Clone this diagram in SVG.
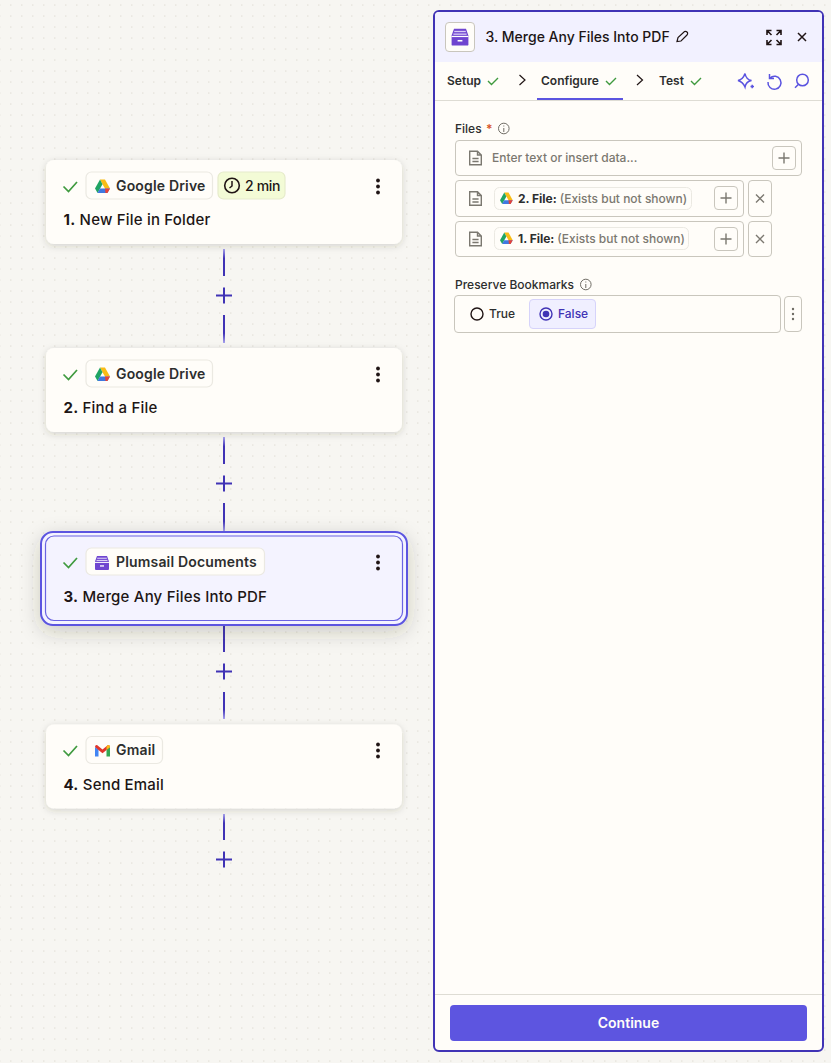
<svg xmlns="http://www.w3.org/2000/svg" width="831" height="1063" viewBox="0 0 831 1063">
<style>
text{font-family:"Inter","Liberation Sans",sans-serif}
.card{fill:#fffdf9}
.chip{fill:#fffdf9;stroke:#ebe9e2;stroke-width:1.2}
.ct{font-size:14px;font-weight:600;letter-spacing:.17px;fill:#2d2e2e}
.tt{font-size:15px;font-weight:500;fill:#201515;letter-spacing:.2px}
.tt tspan{font-weight:700}
.ck{fill:none;stroke:#3f9a3f;stroke-width:1.7}
.ck2{fill:none;stroke:#3f9a3f;stroke-width:1.4}
.ln{stroke:#4033b5;stroke-width:2;fill:none}
.box{fill:#fffdf9;stroke:#c9c6bd;stroke-width:1}
.gi{fill:none;stroke:#7b7870;stroke-width:1.4}
.lab{font-size:12px;font-weight:500;fill:#2d2e2e}
.ph{font-size:12px;font-weight:500;fill:#7b7870}
.chipb{font-size:12px;font-weight:700;fill:#2d2e2e}
.chipg{font-size:12px;font-weight:500;fill:#7b7870}
.tab{font-size:12px;font-weight:600;fill:#2d2e2e}
.ui{fill:none;stroke:#5b54e0;stroke-width:1.5}
.dk{fill:none;stroke:#201515;stroke-width:1.5}
</style>
<defs>
<pattern id="dots" width="11" height="11" patternUnits="userSpaceOnUse"><rect x="10" y="4.300" width="1.500" height="1.500" fill="#e8e6df"/><rect x="-1" y="4.300" width="1.500" height="1.500" fill="#e8e6df"/></pattern>
<filter id="sh" x="-10%" y="-30%" width="120%" height="170%"><feDropShadow dx="0" dy="2" stdDeviation="3.500" flood-color="#3a3420" flood-opacity=".18"/></filter>
<filter id="sh2" x="-15%" y="-40%" width="130%" height="200%"><feDropShadow dx="0" dy="6" stdDeviation="10" flood-color="#3a3420" flood-opacity=".22"/></filter>
<linearGradient id="fu" x1="0" y1="0" x2="0" y2="1"><stop offset="0" stop-color="#a8a2ee"/><stop offset=".35" stop-color="#4033b5"/></linearGradient>
<linearGradient id="fd" x1="0" y1="0" x2="0" y2="1"><stop offset=".65" stop-color="#4033b5"/><stop offset="1" stop-color="#a8a2ee"/></linearGradient>
<g id="drive"><path d="M5 0H10L15 9H10L7.500 4.700Z" fill="#f9bc15"/><path d="M5 0L7.500 4.700L2.600 13.500L0 9Z" fill="#1fa463"/><path d="M4.900 9H15L12.400 13.500H2.500Z" fill="#3f78e0"/><path d="M10 9H15L12.400 13.500H10.500Z" fill="#e94235"/></g>
<g id="cab"><path d="M3 1.500H13L15 7V14.500Q15 15.500 14 15.500H2Q1 15.500 1 14.500V7Z" fill="#6f45d0"/><rect x="3.200" y="3.200" width="9.600" height="1.100" fill="#d9ccf5"/><rect x="2.500" y="5.400" width="11" height="1.100" fill="#d9ccf5"/><rect x="1" y="7.400" width="14" height="1" fill="#fff"/><rect x="6" y="10.800" width="4" height="1.300" fill="#fff"/></g>
<path id="doc" d="M.7 .7H8.500L12.300 4.500V14.300H.7ZM8.500 .7V4.500H12.300M3.400 8H9.600M3.400 11H9.600"/>
<g id="dots3"><circle cx="0" cy="-6" r="1.900"/><circle cx="0" cy="0" r="1.900"/><circle cx="0" cy="6" r="1.900"/></g>
</defs>
<rect width="831" height="1063" fill="#f7f6f2"/>
<rect width="831" height="1063" fill="url(#dots)"/>

<g id="connectors">
<rect x="223" y="249" width="2" height="27" fill="url(#fu)"/><path class="ln" d="M216 295.500H232M224 287.500V303.500"/><rect x="223" y="315" width="2" height="28" fill="url(#fd)"/>
<rect x="223" y="437" width="2" height="27" fill="url(#fu)"/><path class="ln" d="M216 483.500H232M224 475.500V491.500"/><rect x="223" y="503" width="2" height="28" fill="url(#fd)"/>
<rect x="223" y="625" width="2" height="27" fill="#4033b5"/><path class="ln" d="M216 671.500H232M224 663.500V679.500"/><rect x="223" y="692" width="2" height="27" fill="url(#fd)"/>
<rect x="223" y="814" width="2" height="26" fill="url(#fu)"/><path class="ln" d="M216 859.500H232M224 851.500V867.500"/>
</g>

<g id="node1">
<rect class="card" x="46" y="160" width="356" height="84" rx="8" filter="url(#sh)"/>
<path class="ck" d="M63.500 186.500L68.500 191.500L77 182"/>
<rect class="chip" x="86" y="172" width="126.500" height="27" rx="5.500"/>
<use href="#drive" x="95" y="179.500"/>
<text class="ct" x="116" y="191">Google Drive</text>
<rect x="218" y="172" width="67" height="27" rx="5.500" fill="#f3fbd6" stroke="#e6ebcb" stroke-width="1.200"/>
<circle class="dk" cx="232" cy="185.500" r="7.300" style="stroke-width:1.600"/><path class="dk" d="M232 181V186L229.500 188"/>
<text x="245" y="191" font-size="14" font-weight="500" style="fill:#201515;letter-spacing:-.35px">2 min</text>
<use href="#dots3" x="378" y="186.500" fill="#201515"/>
<text class="tt" x="63.500" y="225"><tspan>1.</tspan> New File in Folder</text>
</g>

<g id="node2">
<rect class="card" x="46" y="348" width="356" height="84" rx="8" filter="url(#sh)"/>
<path class="ck" d="M63.500 374.500L68.500 379.500L77 370"/>
<rect class="chip" x="86" y="360" width="126.500" height="27" rx="5.500"/>
<use href="#drive" x="95" y="367.500"/>
<text class="ct" x="116" y="379">Google Drive</text>
<use href="#dots3" x="378" y="374.500" fill="#201515"/>
<text class="tt" x="63.500" y="413"><tspan>2.</tspan> Find a File</text>
</g>

<g id="node3">
<rect x="41" y="532" width="366" height="93" rx="12" fill="#f4f3ff" stroke="#5b54e0" stroke-width="2" filter="url(#sh2)"/>
<rect x="45.500" y="536" width="357" height="84.500" rx="8.500" fill="#f4f3ff" stroke="#6a63e2" stroke-width="1.200"/>
<path class="ck" d="M63.500 562.500L68.500 567.500L77 558"/>
<rect class="chip" x="86" y="548" width="178.500" height="27" rx="5.500"/>
<use href="#cab" x="94" y="554.500"/>
<text class="ct" x="116" y="567">Plumsail Documents</text>
<use href="#dots3" x="378" y="562.500" fill="#201515"/>
<text class="tt" x="63.500" y="602"><tspan>3.</tspan> Merge Any Files Into PDF</text>
</g>

<g id="node4">
<rect class="card" x="46" y="724.500" width="356" height="84" rx="8" filter="url(#sh)"/>
<path class="ck" d="M63.500 750.500L68.500 755.500L77 746"/>
<rect class="chip" x="86" y="736.500" width="76.500" height="27" rx="5.500"/>
<g id="gmail" transform="translate(95 744.500)"><path d="M0 2.500V12H3.500V5Z" fill="#4285f4"/><path d="M11.500 5V12H15V2.500Z" fill="#34a853"/><path d="M0 2.500Q0 .3 2 .5L7.500 5 13 .5Q15 .3 15 2.500L11.500 5.500 7.500 8.800 3.500 5.500Z" fill="#e0362c"/><path d="M11.500 5.500L15 2.500Q15 .3 13 .5L11.500 1.700Z" fill="#f9bc15"/></g>
<text class="ct" x="116" y="755">Gmail</text>
<use href="#dots3" x="378" y="750.500" fill="#201515"/>
<text class="tt" x="63.500" y="790"><tspan>4.</tspan> Send Email</text>
</g>

<g id="panel">
<rect x="434" y="11" width="389" height="1040" rx="5" fill="#fffdf9" stroke="#4033b5" stroke-width="2"/>
<path d="M435 62V16Q435 12 439 12H818Q822 12 822 16V62Z" fill="#f2f1ff"/>
<rect x="445.500" y="22.500" width="29" height="29" rx="3.500" fill="#fffdf9" stroke="#c9c6bd"/>
<g transform="translate(450.400 27) scale(1.200)"><use href="#cab"/></g>
<text x="485.500" y="42" font-size="14" font-weight="500" style="fill:#201515">3. Merge Any Files Into PDF</text>
<path class="dk" style="stroke-width:1.200" d="M677 41.500L678 37.500L684.500 31.500Q686 31 687.500 32.500Q688 34 687 35L681 41Z"/>
<path class="dk" style="stroke-width:1.600" d="M767 35V30.500H771.500M776.500 30.500H781V35M767 40V44.500H771.500M781 40V44.500H776.500M767 30.500L771.500 35M781 30.500L776.500 35M767 44.500L771.500 40M781 44.500L776.500 40"/>
<path class="dk" style="stroke-width:1.500" d="M798 33L806 41M806 33L798 41"/>
<path d="M435 100.500H822" stroke="#dedcd4" stroke-width="1"/>
<text class="tab" x="447" y="85">Setup</text><path class="ck2" d="M488 81L491.500 84.500L498 78"/>
<path class="dk" style="stroke-width:1.200" d="M519.500 75L525 80L519.500 85"/>
<text class="tab" x="541" y="85">Configure</text><path class="ck2" d="M606 81L609.500 84.500L616 78"/>
<rect x="537" y="98" width="86" height="2" fill="#5b54e0"/>
<path class="dk" style="stroke-width:1.200" d="M637 75L642.500 80L637 85"/>
<text class="tab" x="659" y="85">Test</text><path class="ck2" d="M691 81L694.500 84.500L701 78"/>
<path class="ui" d="M745 73.500Q746 79.500 751.500 80.500Q746 81.500 745 87Q743 82 738 80.500Q743 79.500 745 73.500ZM750.500 86.500H754M752.200 84.800V88.200"/>
<path class="ui" d="M769.500 74V78.500H774M770 78A6.500 6.500 0 1 1 768 82"/>
<circle class="ui" cx="802.500" cy="80" r="5.800"/><path class="ui" d="M798.300 84.500L795 87.800"/>

<text class="lab" x="455" y="133">Files</text>
<text x="486" y="133" font-size="12" font-weight="600" style="fill:#d9552b">*</text>
<circle cx="503.800" cy="128.500" r="5.300" fill="none" stroke="#6f6c65"/><path d="M503.800 128V132M503.800 125.500V126.500" stroke="#6f6c65"/>

<rect class="box" x="455.500" y="140.500" width="346" height="35" rx="3.500"/>
<use href="#doc" x="469" y="150.500" class="gi"/>
<text class="ph" x="492" y="162">Enter text or insert data...</text>
<rect class="box" x="772.500" y="146.500" width="23" height="23" rx="3.500"/>
<path class="gi" d="M778.500 158H789.500M784 152.500V163.500"/>

<rect class="box" x="455.500" y="180.500" width="288" height="36" rx="3.500"/>
<use href="#doc" x="469" y="191" class="gi"/>
<rect x="494.500" y="187.500" width="197" height="22" rx="5" fill="#fffdf9" stroke="#ebe9e2"/>
<use href="#drive" transform="translate(500 192.500) scale(.85)"/>
<text x="518" y="203"><tspan class="chipb">2. File:</tspan><tspan class="chipg" dx="3">(Exists but not shown)</tspan></text>
<rect class="box" x="714.500" y="186.500" width="23" height="23" rx="3.500"/>
<path class="gi" d="M720.500 198H731.500M726 192.500V203.500"/>
<rect class="box" x="748.500" y="180.500" width="23" height="36" rx="3.500"/>
<path class="gi" d="M756 194.500L764 202.500M764 194.500L756 202.500"/>

<rect class="box" x="455.500" y="221.500" width="288" height="35" rx="3.500"/>
<use href="#doc" x="469" y="231.500" class="gi"/>
<rect x="494.500" y="227.500" width="194" height="22" rx="5" fill="#fffdf9" stroke="#ebe9e2"/>
<use href="#drive" transform="translate(500 232.500) scale(.85)"/>
<text x="518" y="243"><tspan class="chipb">1. File:</tspan><tspan class="chipg" dx="3">(Exists but not shown)</tspan></text>
<rect class="box" x="714.500" y="227.500" width="23" height="23" rx="3.500"/>
<path class="gi" d="M720.500 239H731.500M726 233.500V244.500"/>
<rect class="box" x="748.500" y="221.500" width="23" height="35" rx="3.500"/>
<path class="gi" d="M756 235L764 243M764 235L756 243"/>

<text class="lab" x="455" y="289">Preserve Bookmarks</text>
<circle cx="585.800" cy="284.500" r="5.300" fill="none" stroke="#6f6c65"/><path d="M585.800 284V288M585.800 281.500V282.500" stroke="#6f6c65"/>
<rect class="box" x="454.500" y="295.500" width="326" height="37" rx="3.500"/>
<circle cx="477" cy="314" r="6" fill="none" stroke="#201515" stroke-width="1.400"/>
<text x="489" y="318" font-size="12" font-weight="500" style="fill:#2d2e2e">True</text>
<rect x="529.500" y="299.500" width="66" height="29" rx="3.500" fill="#f0efff" stroke="#d6d3fa"/>
<circle cx="546" cy="314" r="6" fill="none" stroke="#4033b5" stroke-width="1.400"/><circle cx="546" cy="314" r="3.300" fill="#4033b5"/>
<text x="558" y="318" font-size="12" font-weight="500" style="fill:#4033b5">False</text>
<rect class="box" x="784.500" y="296.500" width="17" height="35" rx="3.500"/>
<g fill="#6f6c65"><circle cx="793" cy="309" r="1.200"/><circle cx="793" cy="314" r="1.200"/><circle cx="793" cy="319" r="1.200"/></g>

<path d="M435 994.500H822" stroke="#dedcd4"/>
<rect x="450" y="1005" width="357" height="36" rx="4" fill="#5d55e0"/>
<text x="628.500" y="1028" font-size="14" font-weight="600" text-anchor="middle" style="fill:#fffdf9">Continue</text>
</g>
</svg>
